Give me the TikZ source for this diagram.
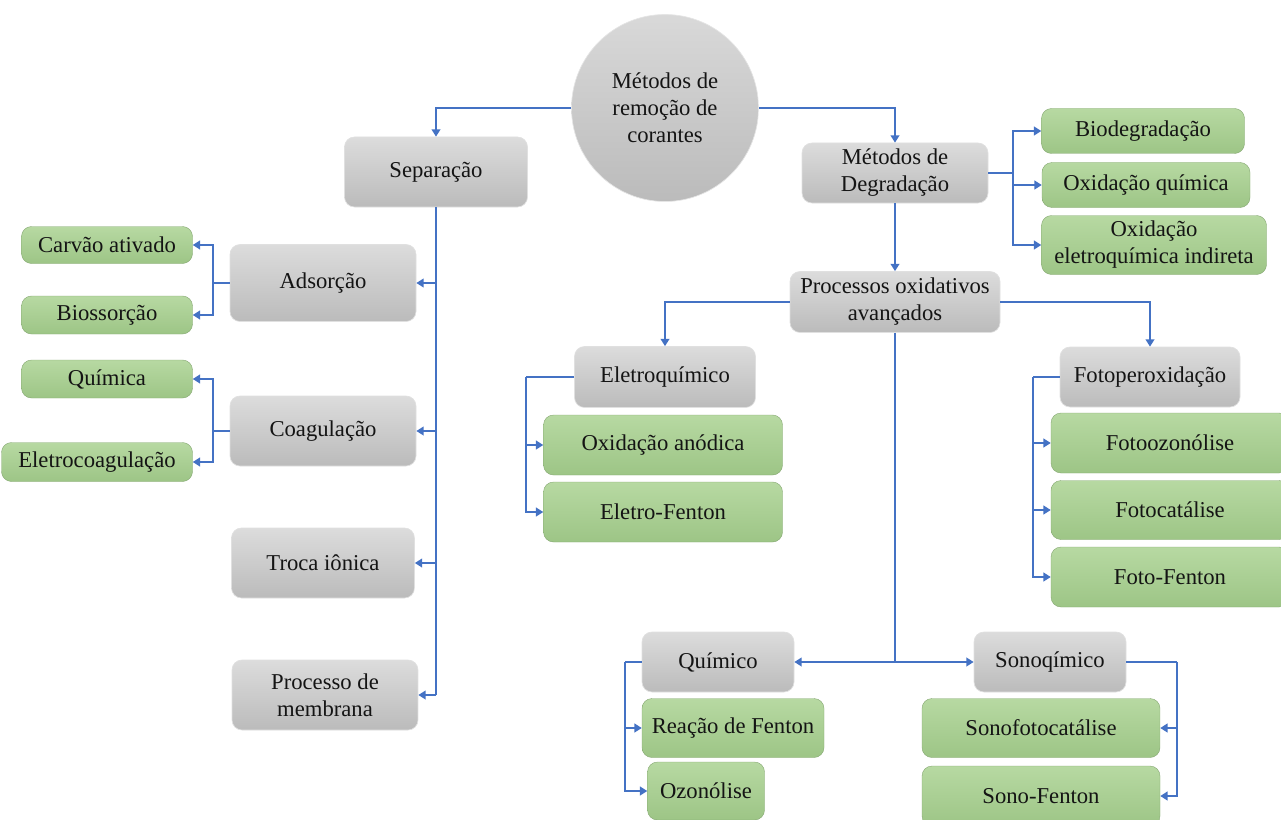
\documentclass[tikz,border=0pt]{standalone}
\usepackage{fontspec}
\setmainfont{Liberation Serif}
\usetikzlibrary{arrows.meta}
\definecolor{lnblue}{HTML}{4472C4}
\definecolor{gtop}{HTML}{DCDCDC}
\definecolor{gbot}{HTML}{BBBBBB}
\definecolor{grtop}{HTML}{B7D9A2}
\definecolor{grbot}{HTML}{9DC586}
\definecolor{txt}{HTML}{141414}
\newdimen\px \px=0.75pt
\begin{document}
\begin{tikzpicture}[x=0.75pt,y=-0.75pt,
  font=\fontsize{17}{20.3}\selectfont,
  base/.style={rounded corners=7.5pt, align=center, inner sep=2pt, text=txt},
  graybox/.style={base, top color=gtop, bottom color=gbot, draw=black!12, line width=0.5pt},
  greenbox/.style={base, top color=grtop, bottom color=grbot, draw=grbot!85!black, line width=0.3pt},
  rootcirc/.style={circle, inner sep=0pt, align=center, text=txt, top color=gtop!90!gbot, bottom color=gbot, draw=black!10, line width=0.5pt},
  sz/.style 2 args={minimum width=#1\px, minimum height=#2\px},
  conn/.style={draw=lnblue, line width=2.1pt},
  arr/.style={conn, -{Triangle[length=5.5pt,width=6.5pt]}},
]
\useasboundingbox (0,0) rectangle (1281,820);
\clip (0,0) rectangle (1281,820);

% root and first level
\node[rootcirc, minimum size=187\px] (root) at (665,108) {Métodos de\\remoção de\\corantes};
\node[graybox, sz={183}{70}] (sep) at (436,172) {Separação};
\node[graybox, sz={186}{60}] (mdd) at (895,173) {Métodos de\\Degradação};

% separation branch
\node[graybox, sz={186}{77}] (ads) at (323,283) {Adsorção};
\node[greenbox, sz={171}{37}] (carv) at (107,245) {Carvão ativado};
\node[greenbox, sz={171}{38}] (bios) at (107,315) {Biossorção};
\node[graybox, sz={186}{70}] (coag) at (323,431) {Coagulação};
\node[greenbox, sz={171}{38}] (quim) at (107,379) {Química};
\node[greenbox, sz={191}{39}] (elco) at (97,462) {Eletrocoagulação};
\node[graybox, sz={183}{70}] (troca) at (323,563) {Troca iônica};
\node[graybox, sz={186}{70}] (memb) at (325,695) {Processo de\\membrana};

% degradation branch
\node[greenbox, sz={203}{45}] (bio) at (1143,131) {Biodegradação};
\node[greenbox, sz={208}{45}] (oxq) at (1146,185) {Oxidação química};
\node[greenbox, sz={225}{59}] (oxei) at (1154,245) {Oxidação\\eletroquímica indireta};
\node[graybox, sz={210}{61}] (poa) at (895,302) {Processos oxidativos\\avançados};

\node[graybox, sz={181}{61}] (elq) at (665,377) {Eletroquímico};
\node[greenbox, sz={239}{60}] (oxan) at (663,445) {Oxidação anódica};
\node[greenbox, sz={239}{60}] (ef) at (663,512) {Eletro-Fenton};

\node[graybox, sz={180}{60}] (fpx) at (1150,377) {Fotoperoxidação};
\node[greenbox, sz={238}{60}] (foz) at (1170,443) {Fotoozonólise};
\node[greenbox, sz={238}{59}] (fcat) at (1170,510) {Fotocatálise};
\node[greenbox, sz={238}{60}] (ffen) at (1170,577) {Foto-Fenton};

\node[graybox, sz={152}{60}] (qui) at (718,662) {Químico};
\node[greenbox, sz={182}{59}] (rf) at (733,728) {Reação de Fenton};
\node[greenbox, sz={117}{58}] (oz) at (706,791) {Ozonólise};

\node[graybox, sz={152}{60}] (son) at (1050,662) {Sonoqímico};
\node[greenbox, sz={238}{59}] (sfc) at (1041,728) {Sonofotocatálise};
\node[greenbox, sz={238}{60}] (sfe) at (1041,796) {Sono-Fenton};

% junction points
\coordinate (sepj) at (436,695);
\coordinate (adsj) at (213,283);
\coordinate (coagj) at (213,431);
\coordinate (mddj) at (1013,173);
\coordinate (elqj) at (526,377);
\coordinate (fpxj) at (1033,377);
\coordinate (poaj) at (895,662);
\coordinate (quij) at (625,662);
\coordinate (sonj) at (1177,662);

% connectors
\draw[arr] (root.west) -| (sep.north);
\draw[arr] (root.east) -| (mdd.north);

\draw[conn] (sep.south) -- (sepj);
\draw[arr] (sep.south |- ads.east) -- (ads.east);
\draw[arr] (sep.south |- coag.east) -- (coag.east);
\draw[arr] (sep.south |- troca.east) -- (troca.east);
\draw[arr] (sepj) -- (memb.east);

\draw[conn] (ads.west) -- (adsj);
\draw[arr] (adsj) |- (carv.east);
\draw[arr] (adsj) |- (bios.east);
\draw[conn] (coag.west) -- (coagj);
\draw[arr] (coagj) |- (quim.east);
\draw[arr] (coagj) |- (elco.east);

\draw[conn] (mdd.east) -- (mddj);
\draw[arr] (mddj) |- (bio.west);
\draw[arr] (mddj) |- (oxq.west);
\draw[arr] (mddj) |- (oxei.west);
\draw[arr] (mdd.south) -- (poa.north);

\draw[arr] (poa.west) -| (elq.north);
\draw[arr] (poa.east) -| (fpx.north);

\draw[conn] (elq.west) -- (elqj);
\draw[arr] (elqj) |- (oxan.west);
\draw[arr] (elqj) |- (ef.west);

\draw[conn] (fpx.west) -- (fpxj);
\draw[arr] (fpxj) |- (foz.west);
\draw[arr] (fpxj) |- (fcat.west);
\draw[arr] (fpxj) |- (ffen.west);

\draw[conn] (poa.south) -- (poaj);
\draw[arr] (poaj) -- (qui.east);
\draw[arr] (poaj) -- (son.west);

\draw[conn] (qui.west) -- (quij);
\draw[arr] (quij) |- (rf.west);
\draw[arr] (quij) |- (oz.west);

\draw[conn] (son.east) -- (sonj);
\draw[arr] (sonj) |- (sfc.east);
\draw[arr] (sonj) |- (sfe.east);
\end{tikzpicture}
\end{document}
